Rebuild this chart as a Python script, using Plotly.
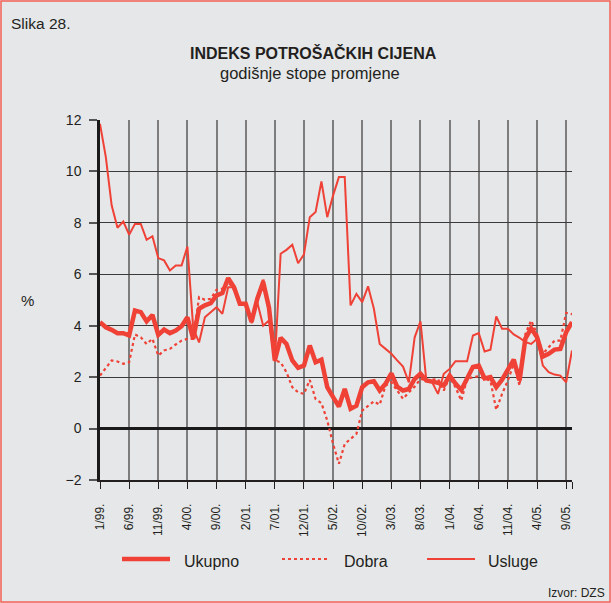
import plotly.graph_objects as go

# month index 0 = 1/99 ... 81 = 10/05
ukupno = [4.14, 3.94, 3.84, 3.71, 3.71, 3.62, 4.59, 4.53, 4.17, 4.42,
          3.64, 3.85, 3.71, 3.81, 3.98, 4.33, 3.49, 4.66, 4.79, 4.88,
          5.18, 5.27, 5.85, 5.50, 4.85, 4.85, 4.15, 5.05, 5.70, 4.70,
          2.65, 3.53, 3.29, 2.65, 2.36, 2.45, 3.23, 2.58, 2.68, 1.61,
          1.22, 0.86, 1.54, 0.77, 0.89, 1.61, 1.80, 1.84, 1.48, 1.74,
          2.15, 1.63, 1.48, 1.54, 1.93, 2.13, 1.87, 1.83, 1.78, 1.67,
          2.06, 1.75, 1.50, 1.95, 2.40, 2.45, 1.95, 2.00, 1.61, 1.90,
          2.26, 2.68, 1.87, 3.50, 3.90, 3.55, 2.80, 2.91, 3.07, 3.10,
          3.75, 4.14]
dobra = [2.06, 2.36, 2.65, 2.61, 2.52, 2.58, 3.66, 3.55, 3.29, 3.49,
         2.84, 3.04, 3.10, 3.27, 3.42, 3.49, 3.49, 5.11, 5.01, 5.05,
         5.40, 5.44, 5.70, 5.40, 4.90, 4.85, 4.10, 5.00, 5.85, 4.60,
         2.65, 2.58, 2.19, 1.61, 1.41, 1.35, 1.89, 1.15, 0.99, 0.31,
         -0.60, -1.37, -0.60, -0.40, -0.21, 0.70, 0.89, 1.06, 0.93, 1.67,
         1.80, 1.48, 1.16, 1.41, 1.63, 1.93, 1.87, 1.90, 1.93, 1.48,
         2.00, 1.61, 1.09, 1.93, 2.00, 2.03, 1.93, 1.87, 0.73, 1.35,
         1.87, 2.52, 1.67, 3.68, 4.20, 3.68, 2.91, 3.16, 3.42, 3.42,
         4.50, 4.45]
usluge = [11.85, 10.56, 8.68, 7.81, 8.05, 7.54, 7.96, 7.96, 7.34, 7.48,
          6.63, 6.54, 6.15, 6.34, 6.34, 7.08, 3.90, 3.35, 4.33, 4.53,
          4.72, 4.46, 5.50, 5.50, 4.85, 4.85, 4.15, 4.90, 4.00, 4.20,
          2.60, 6.80, 6.95, 7.15, 6.43, 6.77, 8.22, 8.42, 9.61, 8.22,
          9.07, 9.78, 9.78, 4.79, 5.24, 4.92, 5.53, 4.66, 3.29, 3.10,
          2.91, 2.65, 2.41, 1.80, 3.55, 4.17, 1.87, 1.80, 1.35, 2.13,
          2.32, 2.62, 2.62, 2.62, 3.62, 3.71, 3.00, 3.07, 4.36, 3.88,
          3.88, 3.66, 3.53, 3.36, 3.29, 3.49, 2.45, 2.19, 2.10, 2.06,
          1.80, 3.04]
months = list(range(len(ukupno)))
tick_vals = [0, 5, 10, 15, 20, 25, 30, 35, 40, 45, 50, 55, 60, 65, 70, 75, 80, 81]
tick_text = ["1/99.", "6/99.", "11/99.", "4/00.", "9/00.", "2/01.", "7/01.", "12/01.",
             "5/02.", "10/02.", "3/03.", "8/03.", "1/04.", "6/04.", "11/04.", "4/05.",
             "9/05.", ""]
series_names = ["Ukupno", "Dobra", "Usluge"]

RED = "#ef4136"
BG = "#e6e7e9"
FONT = "Liberation Sans, Arial, Helvetica, sans-serif"

fig = go.Figure()
fig.add_trace(go.Scatter(x=months, y=usluge, mode="lines", name=series_names[2],
                         line=dict(color=RED, width=2), showlegend=False))
fig.add_trace(go.Scatter(x=months, y=dobra, mode="lines", name=series_names[1],
                         line=dict(color=RED, width=2.2, dash="dot"), showlegend=False))
fig.add_trace(go.Scatter(x=months, y=ukupno, mode="lines", name=series_names[0],
                         line=dict(color=RED, width=4.5), showlegend=False))

L, T, W, H = 100, 120, 472, 360


def px(x):
    return (x - L) / W


def py(y):
    return (T + H - y) / H


shapes = [
    # page border
    dict(type="rect", xref="paper", yref="paper", x0=px(1), x1=px(610), y0=py(602), y1=py(1),
         line=dict(color="#f26157", width=1.5), layer="below"),
]
# legend samples
leg_y = py(559)
shapes.append(dict(type="line", xref="paper", yref="paper", x0=px(122), x1=px(170), y0=leg_y, y1=leg_y,
                   line=dict(color=RED, width=4.5)))
shapes.append(dict(type="line", xref="paper", yref="paper", x0=px(282), x1=px(330), y0=leg_y, y1=leg_y,
                   line=dict(color=RED, width=2.2, dash="dot")))
shapes.append(dict(type="line", xref="paper", yref="paper", x0=px(427), x1=px(475), y0=leg_y, y1=leg_y,
                   line=dict(color=RED, width=2)))

annotations = [
    dict(text="Slika 28.", x=px(9), y=py(23), xref="paper", yref="paper", showarrow=False,
         xanchor="left", yanchor="middle", font=dict(size=15.5, color="#231f20")),
    dict(text="<b>INDEKS POTROŠAČKIH CIJENA</b>", x=px(313), y=py(53), xref="paper", yref="paper",
         showarrow=False, xanchor="center", yanchor="middle", font=dict(size=16, color="#231f20")),
    dict(text="godišnje stope promjene", x=px(310), y=py(73), xref="paper", yref="paper",
         showarrow=False, xanchor="center", yanchor="middle", font=dict(size=16.5, color="#231f20")),
    dict(text="%", x=px(27), y=py(300), xref="paper", yref="paper", showarrow=False,
         xanchor="center", yanchor="middle", font=dict(size=15, color="#231f20")),
    dict(text="Izvor: DZS", x=px(607), y=py(593), xref="paper", yref="paper", showarrow=False,
         xanchor="right", yanchor="middle", font=dict(size=12, color="#231f20")),
]
for nm, xx in zip(series_names, [182, 342, 486]):
    annotations.append(dict(text=nm, x=px(xx), y=py(561), xref="paper", yref="paper",
                            showarrow=False, xanchor="left", yanchor="middle",
                            font=dict(size=16, color="#231f20")))

fig.update_layout(
    width=611, height=603,
    margin=dict(l=L, r=611 - L - W, t=T, b=603 - T - H, pad=0),
    paper_bgcolor=BG, plot_bgcolor=BG,
    font=dict(family=FONT, color="#231f20"),
    showlegend=False,
    shapes=shapes,
    annotations=annotations,
    xaxis=dict(range=[0, 81], tickmode="array", tickvals=tick_vals, ticktext=tick_text,
               tickangle=-90, tickfont=dict(size=12), showgrid=True, gridcolor="#7d7d7d",
               gridwidth=1.6, zeroline=False, showline=True, linecolor="#231f20", linewidth=1.5,
               ticks="outside", ticklen=7, tickcolor="#231f20", tickwidth=1.2,
               ticklabelstandoff=10, fixedrange=True),
    yaxis=dict(range=[-2, 12], tickmode="array", tickvals=[-2, 0, 2, 4, 6, 8, 10, 12],
               tickfont=dict(size=14), showgrid=True, gridcolor="#3a3a3a", gridwidth=1,
               zeroline=True, zerolinecolor="#1a1a1a", zerolinewidth=2.5,
               showline=True, linecolor="#1a1a1a", linewidth=2.5,
               ticks="outside", ticklen=8, tickcolor="#555555", tickwidth=1.5,
               ticklabelstandoff=5, fixedrange=True),
)

fig.write_html(
    "out.html",
    config={"displayModeBar": False},
    post_script="document.body.style.margin='0';document.body.style.padding='0';"
                "document.body.style.overflow='hidden';document.body.style.background='#e6e7e9';",
)
